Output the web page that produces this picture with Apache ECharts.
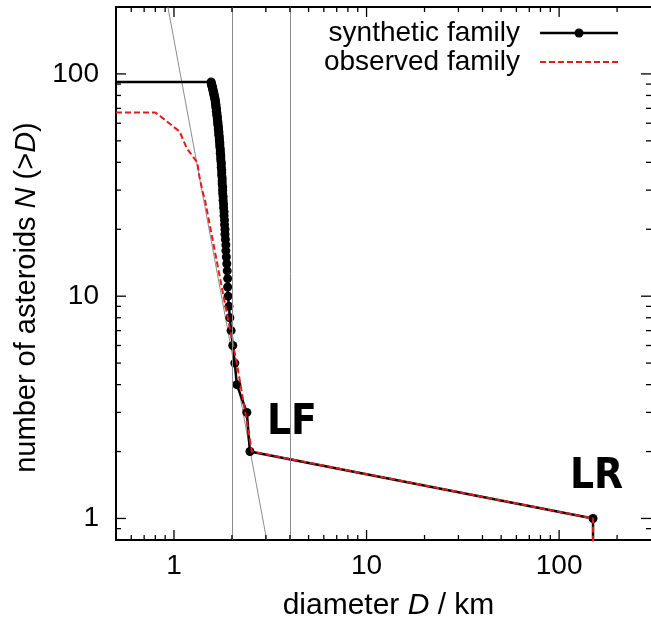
<!DOCTYPE html>
<html>
<head>
<meta charset="utf-8">
<script src="https://cdn.jsdelivr.net/npm/echarts@6/dist/echarts.min.js"></script>
<style>
html,body{margin:0;padding:0;background:#fff;}
#chart{width:651px;height:626px;}
</style>
</head>
<body>
<div id="chart"></div>
<script>
// ---- data ----
// synthetic family: diameters (km) of the N-th largest body, N = 1..92
const synthDiameters = [
  150, 2.48, 2.39, 2.12, 2.07, 2.02, 1.98, 1.95, 1.93, 1.91,
  1.90, 1.90, 1.89, 1.88, 1.87, 1.86, 1.86, 1.85, 1.84, 1.84,
  1.83, 1.83, 1.82, 1.82, 1.81, 1.81, 1.80, 1.80, 1.79, 1.79,
  1.79, 1.78, 1.78, 1.78, 1.77, 1.77, 1.77, 1.76, 1.76, 1.76,
  1.75, 1.75, 1.75, 1.74, 1.74, 1.74, 1.73, 1.73, 1.73, 1.72,
  1.72, 1.72, 1.71, 1.71, 1.71, 1.70, 1.70, 1.70, 1.69, 1.69,
  1.69, 1.68, 1.68, 1.68, 1.67, 1.67, 1.67, 1.66, 1.66, 1.66,
  1.65, 1.65, 1.65, 1.64, 1.64, 1.64, 1.63, 1.63, 1.62, 1.62,
  1.61, 1.61, 1.60, 1.60, 1.59, 1.59, 1.58, 1.58, 1.57, 1.57,
  1.56, 1.56
];
const synthCounts = synthDiameters.map((d, i) => i + 1);
const synthStart = [0.5, 92];     // horizontal continuation to the left edge
const synthEnd = [150, 0.5];      // drop below the largest remnant

// observed family (red dashed), vertices [D, N]
const obsD = [0.5, 0.80, 0.86, 1.07, 1.17, 1.32, 1.36, 1.41, 1.45, 1.88, 2.12, 2.54, 150, 150];
const obsN = [67, 67, 64, 55, 46, 40, 34, 29.4, 27, 8.4, 5, 2, 1, 0.5];

// reference power-law line and vertical guide lines
const refLineD = [0.93, 3.03];
const refLineN = [200, 0.8];
const guideD = [2, 4];

const xTickLabels = [1, 10, 100];
const yTickLabels = [1, 10, 100];
const xRange = [0.5, 300];
const yRange = [0.8, 200];

// ---- chart ----
const FONT = 'Liberation Sans';
const FS = 28;      // tick labels and legend
const FT = 30;      // x title
const FY = 29;      // y title
const chart = echarts.init(document.getElementById('chart'), null, {renderer: 'canvas'});

function isLabel(v, list) {
  return list.some(t => Math.abs(v - t) < 1e-6 * t);
}

const synthData = [{value: synthStart, symbol: 'none'}];
for (let i = synthDiameters.length - 1; i >= 0; i--) {
  synthData.push([synthDiameters[i], synthCounts[i]]);
}
synthData.push({value: synthEnd, symbol: 'none'});

const obsData = obsD.map((d, i) => [d, obsN[i]]);
const refData = refLineD.map((d, i) => [d, refLineN[i]]);

// tick marks (major at decades, minor at 2..9)
const xTicks = [];
const yTicks = [];
for (let e = -1; e <= 2; e++) {
  for (let m = 1; m <= 9; m++) {
    const v = m * Math.pow(10, e);
    if (v > xRange[0] * 1.0001 && v < xRange[1] * 0.9999) xTicks.push([v, 1, m === 1 ? 10 : 5]);
    if (v > yRange[0] * 1.0001 && v < yRange[1] * 0.9999) yTicks.push([1, v, m === 1 ? 10 : 5]);
  }
}

const tickStyle = {stroke: '#000', lineWidth: 1.3};

function renderXTick(params, api) {
  const v = api.value(0), len = api.value(2);
  const pb = api.coord([v, yRange[0]]);
  const pt = api.coord([v, yRange[1]]);
  return {type: 'group', children: [
    {type: 'line', shape: {x1: pb[0], y1: pb[1], x2: pb[0], y2: pb[1] - len}, style: tickStyle},
    {type: 'line', shape: {x1: pt[0], y1: pt[1], x2: pt[0], y2: pt[1] + len}, style: tickStyle}
  ]};
}
function renderYTick(params, api) {
  const v = api.value(1), len = api.value(2);
  const pl = api.coord([xRange[0], v]);
  const pr = api.coord([xRange[1], v]);
  return {type: 'group', children: [
    {type: 'line', shape: {x1: pl[0], y1: pl[1], x2: pl[0] + len, y2: pl[1]}, style: tickStyle},
    {type: 'line', shape: {x1: pr[0], y1: pr[1], x2: pr[0] - len, y2: pr[1]}, style: tickStyle}
  ]};
}

const axisLineStyle = {color: '#000', width: 2};

const option = {
  animation: false,
  backgroundColor: '#fff',
  grid: {left: 116, right: -3, top: 7, bottom: 86, containLabel: false},
  xAxis: [{
    type: 'log', logBase: 10, min: xRange[0], max: xRange[1],
    position: 'bottom',
    axisLine: {show: true, lineStyle: axisLineStyle},
    axisTick: {show: false},
    splitLine: {show: false},
    minorTick: {show: false},
    axisLabel: {
      fontFamily: FONT, fontSize: FS, color: '#000', margin: 12,
      showMinLabel: false, showMaxLabel: false,
      formatter: v => isLabel(v, xTickLabels) ? String(Math.round(v)) : ''
    },
    name: '{a|diameter }{i|D}{a| / km}',
    nameLocation: 'middle', nameGap: 51,
    nameTextStyle: {
      padding: [0, 0, 0, 10],
      rich: {
        a: {fontFamily: FONT, fontSize: FT, color: '#000'},
        i: {fontFamily: FONT, fontSize: FT, color: '#000', fontStyle: 'italic'}
      }
    }
  }, {
    type: 'log', logBase: 10, min: xRange[0], max: xRange[1],
    position: 'top',
    axisLine: {show: true, lineStyle: axisLineStyle},
    axisTick: {show: false}, axisLabel: {show: false}, splitLine: {show: false}
  }],
  yAxis: [{
    type: 'log', logBase: 10, min: yRange[0], max: yRange[1],
    position: 'left',
    axisLine: {show: true, lineStyle: axisLineStyle},
    axisTick: {show: false},
    splitLine: {show: false},
    axisLabel: {
      fontFamily: FONT, fontSize: FS, color: '#000', margin: 17,
      showMinLabel: false, showMaxLabel: false,
      formatter: v => isLabel(v, yTickLabels) ? String(Math.round(v)) : ''
    },
    name: '{a|number of asteroids }{i|N}{a| (>}{i|D}{a|)}',
    nameLocation: 'middle', nameGap: 62, nameRotate: 90,
    nameTextStyle: {
      padding: [0, 48, 0, 0],
      rich: {
        a: {fontFamily: FONT, fontSize: FY, color: '#000'},
        i: {fontFamily: FONT, fontSize: FY, color: '#000', fontStyle: 'italic'}
      }
    }
  }, {
    type: 'log', logBase: 10, min: yRange[0], max: yRange[1],
    position: 'right',
    axisLine: {show: false},
    axisTick: {show: false}, axisLabel: {show: false}, splitLine: {show: false}
  }],
  series: [
    {
      type: 'line', name: 'reference', data: refData, symbol: 'none',
      lineStyle: {color: '#8c8c8c', width: 1}, z: 1, silent: true,
      markLine: {
        silent: true, symbol: 'none', label: {show: false},
        lineStyle: {color: '#8c8c8c', width: 1, type: 'solid'},
        data: guideD.map(d => ({xAxis: d}))
      }
    },
    {
      type: 'line', name: 'synthetic family', data: synthData,
      symbol: 'circle', symbolSize: 9, showAllSymbol: true,
      itemStyle: {color: '#000'},
      lineStyle: {color: '#000', width: 2.5}, z: 3
    },
    {
      type: 'line', name: 'observed family', data: obsData, symbol: 'none',
      lineStyle: {color: '#e8191a', width: 2, type: [6, 3]}, z: 4
    },
    {type: 'custom', data: xTicks, renderItem: renderXTick, z: 5, silent: true},
    {type: 'custom', data: yTicks, renderItem: renderYTick, z: 5, silent: true}
  ],
  graphic: [
    {type: 'text', x: 520, y: 33, z: 10,
     style: {text: 'synthetic family', font: FS + 'px "Liberation Sans"', fill: '#000', align: 'right', verticalAlign: 'middle'}},
    {type: 'line', z: 10, shape: {x1: 540, y1: 33, x2: 618, y2: 33}, style: {stroke: '#000', lineWidth: 2.5}},
    {type: 'circle', z: 10, shape: {cx: 579, cy: 33, r: 4.5}, style: {fill: '#000'}},
    {type: 'text', x: 520, y: 62, z: 10,
     style: {text: 'observed family', font: FS + 'px "Liberation Sans"', fill: '#000', align: 'right', verticalAlign: 'middle'}},
    {type: 'line', z: 10, shape: {x1: 540, y1: 62, x2: 618, y2: 62}, style: {stroke: '#e8191a', lineWidth: 2, lineDash: [6, 3]}},
    {type: 'text', x: 267, y: 423, z: 10,
     style: {text: 'LF', font: 'bold 42px "DejaVu Sans Condensed"', fill: '#000', align: 'left', verticalAlign: 'middle'}},
    {type: 'text', x: 570, y: 477, z: 10,
     style: {text: 'LR', font: 'bold 42px "DejaVu Sans Condensed"', fill: '#000', align: 'left', verticalAlign: 'middle'}}
  ]
};
chart.setOption(option);
</script>
</body>
</html>
